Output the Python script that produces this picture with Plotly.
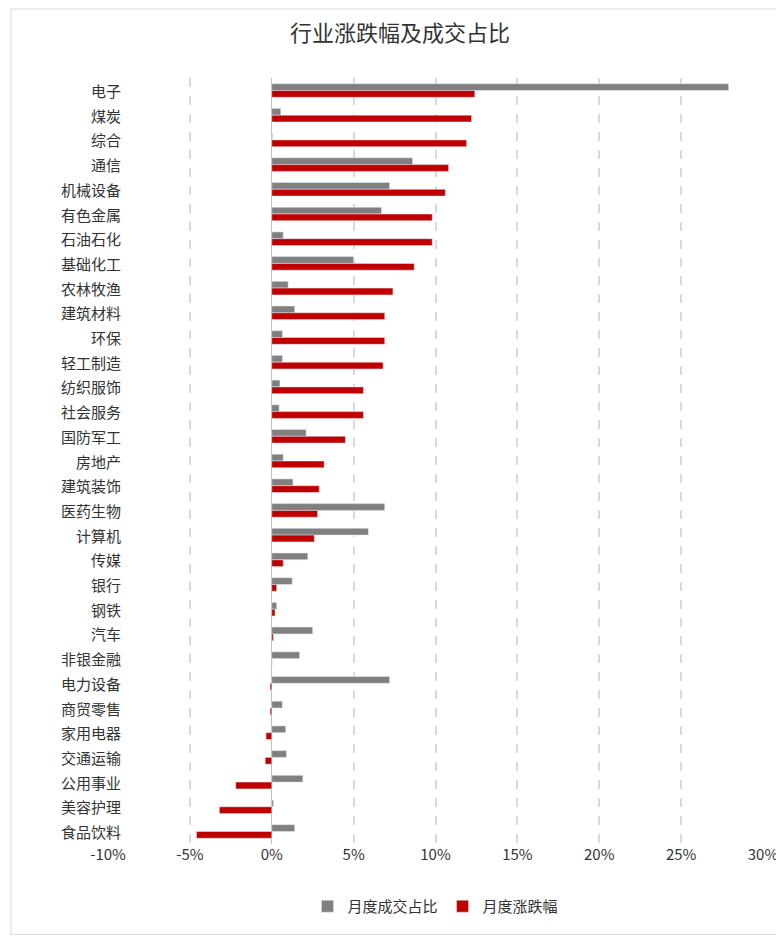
import plotly.graph_objects as go

industries = ["电子", "煤炭", "综合", "通信", "机械设备", "有色金属", "石油石化", "基础化工",
              "农林牧渔", "建筑材料", "环保", "轻工制造", "纺织服饰", "社会服务", "国防军工",
              "房地产", "建筑装饰", "医药生物", "计算机", "传媒", "银行", "钢铁", "汽车",
              "非银金融", "电力设备", "商贸零售", "家用电器", "交通运输", "公用事业",
              "美容护理", "食品饮料"]
turnover_share = [27.9, 0.55, 0.05, 8.6, 7.2, 6.7, 0.7, 5.0, 1.0, 1.4, 0.65, 0.65, 0.5, 0.45,
                  2.1, 0.7, 1.3, 6.9, 5.9, 2.2, 1.25, 0.3, 2.5, 1.7, 7.2, 0.65, 0.85, 0.9,
                  1.9, 0.1, 1.4]
monthly_change = [12.4, 12.2, 11.9, 10.8, 10.6, 9.8, 9.8, 8.7, 7.4, 6.9, 6.9, 6.8, 5.6, 5.6,
                  4.5, 3.2, 2.9, 2.8, 2.6, 0.7, 0.3, 0.2, 0.1, 0.02, -0.1, -0.1, -0.35, -0.4,
                  -2.2, -3.2, -4.6]
tick_vals = [-10, -5, 0, 5, 10, 15, 20, 25, 30]
tick_text = ["-10%", "-5%", "0%", "5%", "10%", "15%", "20%", "25%", "30%"]

font = "Noto Sans CJK SC"
fig = go.Figure()
fig.add_trace(go.Bar(y=industries, x=turnover_share, orientation="h", name="月度成交占比",
                     marker=dict(color="#808080")))
fig.add_trace(go.Bar(y=industries, x=monthly_change, orientation="h", name="月度涨跌幅",
                     marker=dict(color="#C00000")))

# category labels drawn slightly inside the plot area, as in the reference
for name in industries:
    fig.add_annotation(x=0.023, xref="paper", y=name, yref="y", text=name,
                       showarrow=False, xanchor="right", font=dict(size=15, color="#333333"))

fig.update_layout(
    width=784, height=940,
    title=dict(text="行业涨跌幅及成交占比", x=0.5, xanchor="center", y=0.981,
               font=dict(size=22, color="#333333", family=font)),
    barmode="group", bargap=0.45, bargroupgap=0,
    paper_bgcolor="white", plot_bgcolor="white",
    font=dict(family=font, size=15, color="#333333"),
    margin=dict(l=100, r=29, t=70, b=104),
    xaxis=dict(range=[-10, 30], tickvals=tick_vals, ticktext=tick_text, showgrid=True,
               gridcolor="#D9D9D9", griddash="dash", gridwidth=1.5,
               zeroline=True, zerolinecolor="#BFBFBF", zerolinewidth=1,
               tickfont=dict(size=15)),
    yaxis=dict(autorange="reversed", showgrid=False, ticks="", showticklabels=False),
    legend=dict(orientation="h", x=0.5, xanchor="center", y=-0.06, yanchor="top",
                font=dict(size=15)),
    shapes=[dict(type="rect", xref="paper", yref="paper", x0=-0.148, x1=1.04, y0=-0.118,
                 y1=1.09, line=dict(color="#D9D9D9", width=1))],
)
fig.write_html("out.html")
